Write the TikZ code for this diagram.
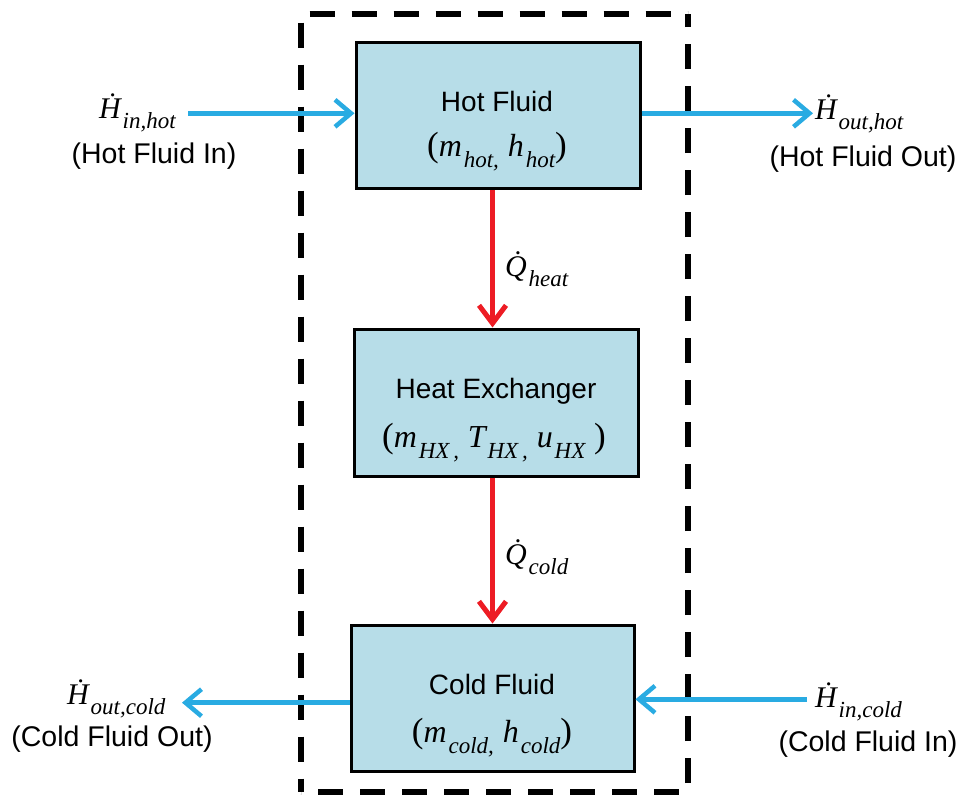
\documentclass[tikz,border=0pt]{standalone}
\usepackage{fontspec}
\setmainfont{Liberation Sans}
\newfontfamily\mathserif{Liberation Serif}
\usetikzlibrary{arrows.meta}
\definecolor{flowblue}{RGB}{41,171,226}
\definecolor{heatred}{RGB}{237,28,36}
\definecolor{boxfill}{RGB}{183,221,232}
\newcommand\sbs[1]{\kern0.06em\raisebox{-0.36em}{\fontsize{23}{23}\selectfont\mathserif\itshape #1}}
\newcommand\mvar[1]{{\mathserif\itshape #1}}
\newcommand\bparen[1]{{\fontsize{35}{35}\selectfont #1}}
\tikzset{
  blockbox/.style={draw=black, line width=3pt, fill=boxfill, minimum width=284pt, minimum height=146pt, inner sep=0pt},
  flowarrow/.style={draw=flowblue, line width=4.5pt, -{Straight Barb[length=16pt,width=27pt]}},
  heatarrow/.style={draw=heatred, line width=5pt, -{Straight Barb[length=18pt,width=27pt]}},
  boxtitle/.style={font=\fontsize{28}{28}\selectfont, inner sep=0pt, anchor=base},
  boxmath/.style={font=\fontsize{32}{32}\selectfont\mathserif, inner sep=0pt, anchor=base},
  sidetext/.style={font=\fontsize{28.5}{28.5}\selectfont, inner sep=0pt, anchor=base},
  sidemath/.style={font=\fontsize{30}{30}\selectfont\mathserif\itshape, inner sep=0pt, anchor=base west},
  boundary/.style={draw=black, line width=6pt, dash pattern=on 25pt off 17pt, dash phase=33pt}
}
\begin{document}
\begin{tikzpicture}[x=1pt,y=-1pt]
\useasboundingbox (0,0) rectangle (962,798);
% system boundary
\coordinate (bnw) at (300.5,13.5);
\coordinate (bse) at (687.5,792);
\draw[boundary] (bnw) -- (bnw -| bse);
\draw[boundary] (bnw) -- (bnw |- bse);
\draw[boundary] (bse) -- (bnw -| bse);
\draw[boundary] (bse) -- (bnw |- bse);
% blocks
\node[blockbox] (hot) at (498,115.5) {};
\node[blockbox, minimum height=147pt] (hx) at (496,402.5) {};
\node[blockbox, minimum width=283pt] (cold) at (492.5,698) {};
% block texts
\node[boxtitle] (hottitle) at (497,111) {Hot Fluid};
\node[boxmath] (hotmath) at (497,156) {\bparen{(}\mvar{m}\sbs{hot,}\;\mvar{h}\sbs{hot}\bparen{)}};
\node[boxmath] (hxmath) at (494,447) {\bparen{(}\mvar{m}\sbs{HX\,,}\;\mvar{T}\sbs{HX\,,}\;\mvar{u}\sbs{HX}\;\bparen{)}};
\node[boxtitle] (hxtitle) at (496,398) {Heat Exchanger};
\node[boxtitle] (coldtitle) at (492,694) {Cold Fluid};
\node[boxmath] (coldmath) at (492,742) {\bparen{(}\mvar{m}\sbs{cold,}\;\mvar{h}\sbs{cold}\bparen{)}};
% heat flows
\draw[heatarrow] (hot.south -| cold.center) -- (hx.north -| cold.center);
\draw[heatarrow] (hx.south -| cold.center) -- (cold.north -| cold.center);
\node[sidemath] (qheat) at (505,276) {Q^^^^0307\sbs{heat}};
\node[sidemath] (qcold) at (505,564) {Q^^^^0307\sbs{cold}};
% enthalpy flows
\coordinate (hinstart) at (188,113.3);
\coordinate (houtend) at (813,113.3);
\coordinate (coutend) at (182,702.7);
\coordinate (cinstart) at (807,699.3);
\draw[flowarrow] (hinstart) -- (hinstart -| hot.west);
\draw[flowarrow] (houtend -| hot.east) -- (houtend);
\draw[flowarrow] (coutend -| cold.west) -- (coutend);
\draw[flowarrow] (cinstart) -- (cinstart -| cold.east);
% side labels
\node[sidemath] (hinhot) at (99,118) {^^^^1e22\sbs{in,hot}};
\node[sidetext] (hinhottext) at (154,163) {(Hot Fluid In)};
\node[sidemath] (houthot) at (815,119) {^^^^1e22\sbs{out,hot}};
\node[sidetext] (houthottext) at (863,166) {(Hot Fluid Out)};
\node[sidemath] (houtcold) at (67,704) {^^^^1e22\sbs{out,cold}};
\node[sidetext] (houtcoldtext) at (112,746) {(Cold Fluid Out)};
\node[sidemath] (hincold) at (815,707) {^^^^1e22\sbs{in,cold}};
\node[sidetext] (hincoldtext) at (868,751) {(Cold Fluid In)};
\end{tikzpicture}
\end{document}
